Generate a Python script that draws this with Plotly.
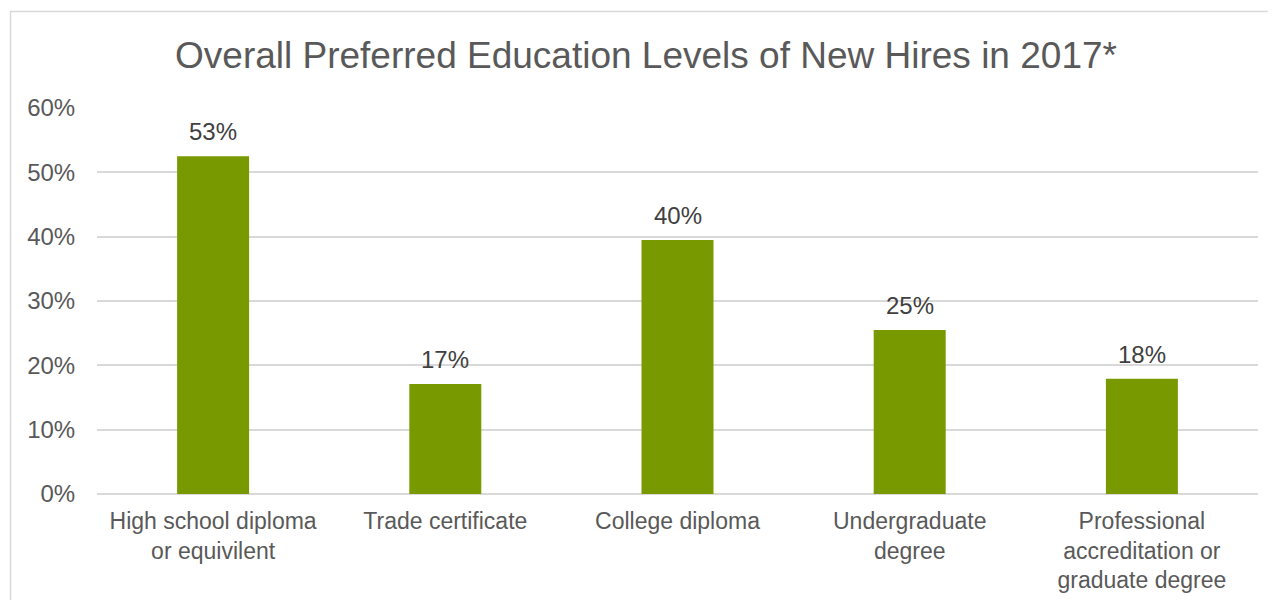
import plotly.graph_objects as go

categories = ["High school diploma<br>or equivilent", "Trade certificate", "College diploma",
              "Undergraduate<br>degree", "Professional<br>accreditation or<br>graduate degree"]
values = [0.525, 0.171, 0.395, 0.255, 0.179]
labels = ["53%", "17%", "40%", "25%", "18%"]
tick_vals = [0, 0.1, 0.2, 0.3, 0.4, 0.5, 0.6]
tick_text = ["0%", "10%", "20%", "30%", "40%", "50%", "60%"]

FONT = "Liberation Sans, Arial, sans-serif"

fig = go.Figure(go.Bar(x=categories, y=values, marker=dict(color="#789A00", line=dict(width=0)),
                       width=0.31, hoverinfo="skip"))

for c, v, t in zip(categories, values, labels):
    fig.add_annotation(x=c, y=v, text=t, showarrow=False, yanchor="bottom", yshift=9,
                       font=dict(family=FONT, size=24, color="#404040"))

# outer chart frame (light gray), running off the right and bottom edges
fig.add_shape(type="rect", xref="paper", yref="paper", x0=-0.0745, x1=1.2, y0=-0.5, y1=1.25,
              line=dict(color="#d9d9d9", width=1.5), fillcolor="rgba(0,0,0,0)", layer="below")

fig.update_layout(
    width=1276, height=600,
    margin=dict(l=89, r=26, t=100, b=114),
    paper_bgcolor="white", plot_bgcolor="white",
    title=dict(text="Overall Preferred Education Levels of New Hires in 2017*", x=0.5, xanchor="center",
               xref="container", y=1 - 47 / 600, yanchor="middle",
               font=dict(family=FONT, size=37, color="#595959")),
    font=dict(family=FONT, color="#595959"),
    showlegend=False,
    xaxis=dict(showgrid=False, tickfont=dict(size=23, color="#595959"), showline=False,
               ticks="outside", ticklen=6, tickcolor="rgba(0,0,0,0)"),
    yaxis=dict(range=[0, 0.6], tickvals=tick_vals, ticktext=tick_text, showgrid=True,
               gridcolor="#d9d9d9", gridwidth=1.5, zeroline=True, zerolinecolor="#d9d9d9",
               zerolinewidth=1.5, tickfont=dict(size=24, color="#595959"),
               ticks="outside", ticklen=16, tickcolor="rgba(0,0,0,0)"),
)

fig.write_html("out.html")
